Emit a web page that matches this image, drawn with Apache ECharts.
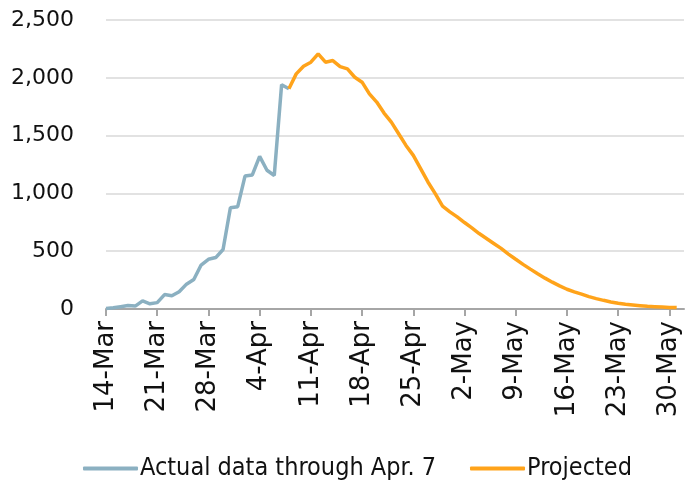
<!DOCTYPE html>
<html>
<head>
<meta charset="utf-8">
<script src="https://cdn.jsdelivr.net/npm/echarts@6/dist/echarts.min.js"></script>
<style>
  html, body { margin: 0; padding: 0; background: #fff; }
  #chart { width: 688px; height: 482px; }
</style>
</head>
<body>
<div id="chart"></div>
<script>
// days on the x axis, 14-Mar .. 1-Jun
const dates = [
    '14-Mar', '15-Mar', '16-Mar', '17-Mar', '18-Mar', '19-Mar', '20-Mar', '21-Mar', '22-Mar', '23-Mar',
    '24-Mar', '25-Mar', '26-Mar', '27-Mar', '28-Mar', '29-Mar', '30-Mar', '31-Mar',
    '1-Apr', '2-Apr', '3-Apr', '4-Apr', '5-Apr', '6-Apr', '7-Apr', '8-Apr', '9-Apr', '10-Apr',
    '11-Apr', '12-Apr', '13-Apr', '14-Apr', '15-Apr', '16-Apr', '17-Apr', '18-Apr', '19-Apr', '20-Apr',
    '21-Apr', '22-Apr', '23-Apr', '24-Apr', '25-Apr', '26-Apr', '27-Apr', '28-Apr', '29-Apr', '30-Apr',
    '1-May', '2-May', '3-May', '4-May', '5-May', '6-May', '7-May', '8-May', '9-May', '10-May',
    '11-May', '12-May', '13-May', '14-May', '15-May', '16-May', '17-May', '18-May', '19-May', '20-May',
    '21-May', '22-May', '23-May', '24-May', '25-May', '26-May', '27-May', '28-May', '29-May', '30-May',
    '31-May', '1-Jun'
]

// actual counts, 14-Mar .. 8-Apr
const actual = [5, 10, 20, 30, 25, 70, 45, 55, 125, 115, 150, 215, 255, 380, 430, 445,
    515, 875, 885, 1150, 1160, 1320, 1200, 1155, 1940, 1905]

// projection, 8-Apr .. 31-May
const projected = [1905, 2034, 2100, 2135, 2207, 2135, 2149, 2097, 2077, 2005,
    1962, 1861, 1790, 1695, 1617, 1516, 1415, 1329, 1214, 1099,
    998, 889, 840, 797, 748, 702, 653, 610, 567, 524,
    475, 430, 386, 345, 305, 267, 232, 200, 171, 148,
    128, 107, 90, 75, 61, 49, 41, 35, 29, 23,
    20, 17, 14, 12]
const projectedStart = 25

const yTicks = [0, 500, 1000, 1500, 2000, 2500]

const actualData = dates.map((d, i) => i < actual.length ? actual[i] : null)
const projectedData = dates.map((d, i) => {
    let k = i - projectedStart
    return k >= 0 && k < projected.length ? projected[k] : null
})

const chart = echarts.init(document.getElementById('chart'))

chart.setOption({
    animation: false,
    grid: {left: 106, right: 4, top: 20, bottom: 173},
    legend: {
        left: 78,
        top: 451,
        itemWidth: 55,
        itemHeight: 4,
        itemGap: 34,
        icon: 'roundRect',
        textStyle: {
            fontFamily: 'DejaVu Sans Condensed, Liberation Sans Narrow, sans-serif',
            fontSize: 25,
            color: '#111',
            padding: [0, 0, 0, -3]
        },
        data: ['Actual data through Apr. 7', 'Projected']
    },
    xAxis: {
        type: 'category',
        data: dates,
        boundaryGap: false,
        axisLine: {lineStyle: {color: '#a6a6a6', width: 2}},
        axisTick: {interval: 6, length: 7, lineStyle: {color: '#a6a6a6', width: 2}},
        axisLabel: {
            interval: 6,
            rotate: 90,
            margin: 12,
            fontFamily: 'DejaVu Sans',
            fontSize: 26,
            color: '#111'
        },
        splitLine: {show: false}
    },
    yAxis: {
        type: 'value',
        min: yTicks[0],
        max: yTicks[yTicks.length - 1],
        interval: 500,
        axisLine: {show: false},
        axisTick: {show: false},
        axisLabel: {
            margin: 32,
            fontFamily: 'DejaVu Sans',
            fontSize: 22,
            color: '#111',
            formatter: v => v.toLocaleString('en-US')
        },
        splitLine: {lineStyle: {color: '#d9d9d9', width: 1.5}}
    },
    series: [
        {
            name: 'Actual data through Apr. 7',
            type: 'line',
            data: actualData,
            symbol: 'none',
            lineStyle: {color: '#8bb0c1', width: 3.5},
            itemStyle: {color: '#8bb0c1'}
        },
        {
            name: 'Projected',
            type: 'line',
            data: projectedData,
            symbol: 'none',
            lineStyle: {color: '#ffa31a', width: 3.5},
            itemStyle: {color: '#ffa31a'}
        }
    ]
})
</script>
</body>
</html>
